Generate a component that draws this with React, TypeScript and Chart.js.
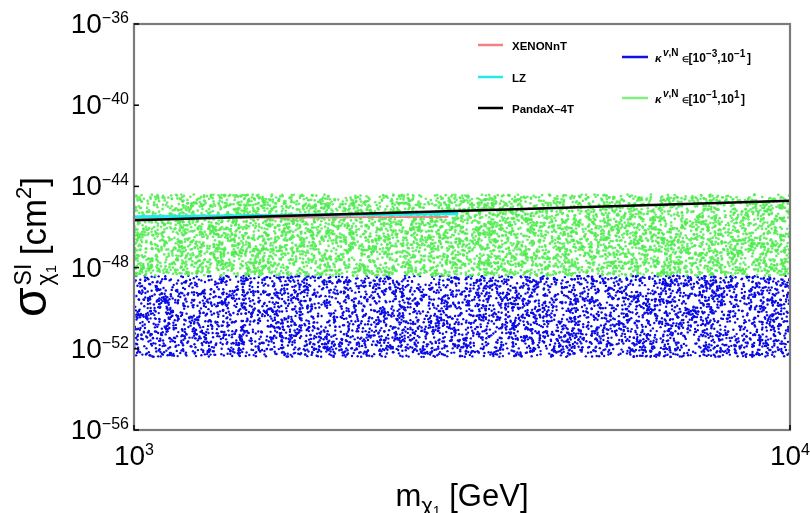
import React, { useEffect, useRef } from "react";
import { Chart, registerables } from "chart.js";

Chart.register(...registerables);

// ---- data ----
const X_RANGE = [1e3, 1e4];
const Y_RANGE = [1e-56, 1e-36];
const X_TICK_EXPONENTS = [3, 4];
const Y_TICK_EXPONENTS = [-36, -40, -44, -48, -52, -56];

const PANDAX_MASS = [1000, 3700, 10000];
const PANDAX_SIGMA = [2.14e-46, 7.24e-46, 1.95e-45];

const LZ_MASS = [1000, 3120];
const LZ_SIGMA = [3.16e-46, 4.57e-46];

const XENON_MASS = [1000, 3015];
const XENON_SIGMA = [2.69e-46, 3.16e-46];

// scan clouds: bounds of each band (mass range, sigma range) and number of scan points
const BAND_MASS = [1000, 10000];
const BLUE_SIGMA = [3.98e-53, 3.98e-49];
const GREEN_SIGMA = [3.98e-49, 3.98e-45];
const BLUE_COUNT = 5000;
const GREEN_COUNT = 6000;

const FONT = "'Liberation Sans', Arial, sans-serif";

// deterministic scatter of scan points inside a band
function makeCloud(seed: number, n: number, mRange: number[], sRange: number[]) {
  let s = seed >>> 0;
  const rnd = () => {
    s = (s + 0x6d2b79f5) >>> 0;
    let t = s;
    t = Math.imul(t ^ (t >>> 15), t | 1);
    t ^= t + Math.imul(t ^ (t >>> 7), t | 61);
    return ((t ^ (t >>> 14)) >>> 0) / 4294967296;
  };
  const lm0 = Math.log10(mRange[0]), lm1 = Math.log10(mRange[1]);
  const ls0 = Math.log10(sRange[0]), ls1 = Math.log10(sRange[1]);
  const pts: { x: number; y: number }[] = [];
  for (let i = 0; i < n; i++) {
    pts.push({ x: 10 ** (lm0 + (lm1 - lm0) * rnd()), y: 10 ** (ls0 + (ls1 - ls0) * rnd()) });
  }
  return pts;
}

type Run = { t: string; size: number; dy?: number; style?: string; weight?: string; dx?: number; noAdvance?: boolean };

function drawRuns(ctx: CanvasRenderingContext2D, runs: Run[], x: number, y: number, align: "left" | "center" | "right", color = "#000") {
  const widths = runs.map((r) => {
    ctx.font = `${r.style || "normal"} ${r.weight || "normal"} ${r.size}px ${FONT}`;
    return ctx.measureText(r.t).width;
  });
  let total = 0;
  runs.forEach((r, i) => { if (!r.noAdvance) total += widths[i] + (r.dx || 0); });
  let cx = align === "left" ? x : align === "center" ? x - total / 2 : x - total;
  ctx.fillStyle = color;
  ctx.textBaseline = "alphabetic";
  ctx.textAlign = "left";
  runs.forEach((r, i) => {
    ctx.font = `${r.style || "normal"} ${r.weight || "normal"} ${r.size}px ${FONT}`;
    ctx.fillText(r.t, cx + (r.dx || 0), y + (r.dy || 0));
    if (!r.noAdvance) cx += widths[i] + (r.dx || 0);
  });
}

const decor = {
  id: "decor",
  afterDatasetsDraw(chart: any) {
    const { ctx, chartArea: a, scales } = chart;
    const xs = scales.x, ys = scales.y;
    ctx.save();
    // frame
    ctx.strokeStyle = "#7b7b7b";
    ctx.lineWidth = 2.2;
    ctx.strokeRect(a.left, a.top, a.right - a.left, a.bottom - a.top);
    // ticks
    ctx.strokeStyle = "#000";
    ctx.lineWidth = 1.5;
    Y_TICK_EXPONENTS.forEach((e) => {
      const py = ys.getPixelForValue(10 ** e);
      ctx.beginPath(); ctx.moveTo(a.left, py); ctx.lineTo(a.left + 5, py); ctx.stroke();
      drawRuns(ctx, [
        { t: "10", size: 28 },
        { t: "\u2212" + String(-e), size: 16, dy: -10 },
      ], a.left - 5, py + 9, "right");
    });
    X_TICK_EXPONENTS.forEach((e) => {
      const px = xs.getPixelForValue(10 ** e);
      ctx.beginPath(); ctx.moveTo(px, a.bottom); ctx.lineTo(px, a.bottom - 5); ctx.stroke();
      drawRuns(ctx, [
        { t: "10", size: 28 },
        { t: String(e), size: 16, dy: -10 },
      ], px, a.bottom + 35, "center");
    });
    // x title
    drawRuns(ctx, [
      { t: "m", size: 31 },
      { t: "\u03c7", size: 22, dy: 7 },
      { t: "1", size: 14, dy: 10 },
      { t: " [GeV]", size: 31 },
    ], (a.left + a.right) / 2, 506, "center");
    // y title (rotated)
    ctx.save();
    ctx.translate(46, 247);
    ctx.rotate(-Math.PI / 2);
    drawRuns(ctx, [
      { t: "\u03c3", size: 48 },
      { t: "SI", size: 23, dy: -15, noAdvance: true, dx: 2 },
      { t: "\u03c7", size: 23, dy: 7, dx: 2 },
      { t: "1", size: 15, dy: 10 },
      { t: " [cm", size: 35 },
      { t: "2", size: 22, dy: -15 },
      { t: "]", size: 35 },
    ], 0, 0, "center");
    ctx.restore();

    // legend
    const legLeft = [
      { label: "XENONnT", color: "#f08282", y: 45 },
      { label: "LZ", color: "#22eaea", y: 77 },
      { label: "PandaX-4T", color: "#000000", y: 108 },
    ];
    legLeft.forEach((it) => {
      ctx.strokeStyle = it.color; ctx.lineWidth = 2.5;
      ctx.beginPath(); ctx.moveTo(478, it.y); ctx.lineTo(503, it.y); ctx.stroke();
      drawRuns(ctx, [{ t: it.label.replace("-", "\u2013"), size: 11.5, weight: "bold" }], 512, it.y + 4.5, "left");
    });
    const legRight = [
      { lo: "\u22123", hi: "\u22121", color: "#1010e0", y: 57 },
      { lo: "\u22121", hi: "1", color: "#80f080", y: 98 },
    ];
    legRight.forEach((it) => {
      ctx.strokeStyle = it.color; ctx.lineWidth = 2.5;
      ctx.beginPath(); ctx.moveTo(622, it.y); ctx.lineTo(648, it.y); ctx.stroke();
      drawRuns(ctx, [
        { t: "\u03ba", size: 11.5, style: "italic", weight: "bold" },
        { t: "v", size: 10, dy: -6, style: "italic", weight: "bold", dx: 1.5 },
        { t: ",N", size: 10, dy: -6, weight: "bold" },
        { t: "\u2208", size: 8, dy: 0, weight: "bold", dx: 3 },
        { t: "[10", size: 12, weight: "bold" },
        { t: it.lo, size: 10, dy: -5, weight: "bold" },
        { t: ",10", size: 12, weight: "bold" },
        { t: it.hi, size: 10, dy: -5, weight: "bold" },
        { t: "]", size: 12, weight: "bold", dx: 1.5 },
      ], 655, it.y + 5, "left");
    });
    ctx.restore();
  },
};

export default function App() {
  const ref = useRef<HTMLCanvasElement>(null);
  useEffect(() => {
    document.body.style.margin = "0";
    const toPts = (m: number[], s: number[]) => m.map((v, i) => ({ x: v, y: s[i] }));
    const chart = new Chart(ref.current!, {
      type: "scatter",
      data: {
        datasets: [
          { label: "PandaX-4T", data: toPts(PANDAX_MASS, PANDAX_SIGMA), showLine: true, borderColor: "#000", borderWidth: 2.6, pointRadius: 0 } as any,
          { label: "LZ", data: toPts(LZ_MASS, LZ_SIGMA), showLine: true, borderColor: "#22eaea", borderWidth: 3.2, pointRadius: 0 } as any,
          { label: "XENONnT", data: toPts(XENON_MASS, XENON_SIGMA), showLine: true, borderColor: "#f08282", borderWidth: 1.8, pointRadius: 0 } as any,
          { label: "green", data: makeCloud(7, GREEN_COUNT, BAND_MASS, GREEN_SIGMA), pointRadius: 1.35, pointBackgroundColor: "rgba(80,235,80,0.85)", pointBorderWidth: 0 } as any,
          { label: "blue", data: makeCloud(13, BLUE_COUNT, BAND_MASS, BLUE_SIGMA), pointRadius: 1.2, pointBackgroundColor: "#0a0ae6", pointBorderWidth: 0 } as any,
        ],
      },
      options: {
        responsive: false,
        animation: false,
        devicePixelRatio: 1,
        layout: { padding: { left: 134, right: 20, top: 24, bottom: 83 } },
        plugins: { legend: { display: false }, tooltip: { enabled: false } },
        scales: {
          x: { type: "logarithmic", min: X_RANGE[0], max: X_RANGE[1], display: false },
          y: { type: "logarithmic", min: Y_RANGE[0], max: Y_RANGE[1], display: false },
        },
      },
      plugins: [decor],
    } as any);
    return () => chart.destroy();
  }, []);
  return (
    <div style={{ width: 810, height: 513 }}>
      <canvas ref={ref} width={810} height={513} style={{ display: "block" }} />
    </div>
  );
}
